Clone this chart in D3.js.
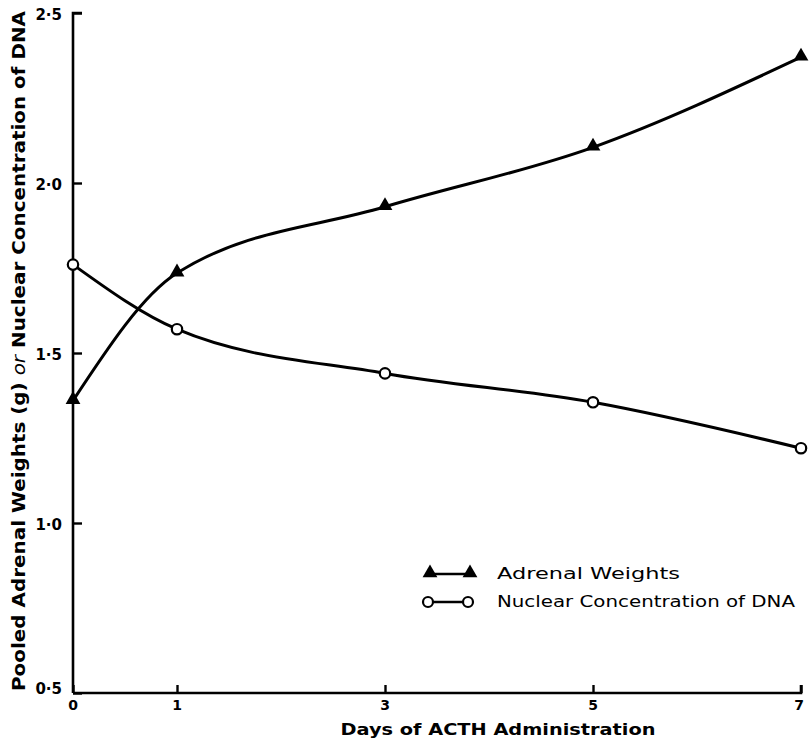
<!DOCTYPE html>
<html>
<head>
<meta charset="utf-8">
<script src="https://cdn.jsdelivr.net/npm/d3@7"></script>
<style>
  html, body { margin: 0; padding: 0; background: #fff; }
  svg { display: block; }
  text { font-family: "DejaVu Sans", sans-serif; fill: #000; }
</style>
</head>
<body>
<svg id="chart" width="812" height="746"></svg>
<script>
// Days on which pooled glands were weighed and assayed
const days = [0, 1, 3, 5, 7];
// Pooled adrenal weights (g)
const adrenalWeights = [1.36, 1.735, 1.93, 2.105, 2.37];
// Nuclear concentration of DNA
const dnaConcentration = [1.76, 1.57, 1.44, 1.355, 1.22];
// Axis ticks
const xTicks = [0, 1, 3, 5, 7];
const yTicks = [0.5, 1.0, 1.5, 2.0, 2.5];
const yTickLabels = ["0·5", "1·0", "1·5", "2·0", "2·5"];

const svg = d3.select("#chart");
const x = d3.scaleLinear().domain([0, 7]).range([73, 801]);
const y = d3.scaleLinear().domain([0.5, 2.5]).range([693, 13]);

const ink = "#000";

// Axes
const yAxis = d3.axisRight(y).tickValues(yTicks).tickSize(9).tickFormat("");
const gy = svg.append("g").attr("transform", `translate(${x(0)},0)`).call(yAxis);
gy.select(".domain").attr("d", `M9,${y(2.5)}H0V${y(0.5)}`);

const xAxis = d3.axisTop(x).tickValues(xTicks).tickSize(8).tickFormat("");
const gx = svg.append("g").attr("transform", `translate(0,${y(0.5)})`).call(xAxis);
gx.select(".domain").attr("d", `M${x(0)},0H${x(7)}V-8`);

svg.selectAll(".domain").attr("stroke", ink).attr("stroke-width", 2.6).attr("fill", "none");
svg.selectAll(".tick line").attr("stroke", ink).attr("stroke-width", 2.4);

// Tick labels
svg.append("g").selectAll("text").data(yTicks).join("text")
  .attr("x", x(0) - 11)
  .attr("y", (d, i) => y(d) + (i === 0 ? -4 : 2))
  .attr("text-anchor", "end")
  .attr("dominant-baseline", "middle")
  .attr("font-size", 15)
  .attr("font-weight", "bold")
  .text((d, i) => yTickLabels[i]);

svg.append("g").selectAll("text").data(xTicks).join("text")
  .attr("x", d => x(d) + (d === 7 ? -2 : 0))
  .attr("y", y(0.5) + 17)
  .attr("text-anchor", "middle")
  .attr("font-size", 14)
  .attr("font-weight", "bold")
  .text(d => d);

// Axis titles
svg.append("text")
  .attr("x", 498).attr("y", 735)
  .attr("text-anchor", "middle")
  .attr("font-size", 16)
  .attr("font-weight", "bold")
  .attr("textLength", 315)
  .attr("lengthAdjust", "spacingAndGlyphs")
  .text("Days of ACTH Administration");

const yTitle = svg.append("text")
  .attr("transform", `translate(25,351) rotate(-90)`)
  .attr("text-anchor", "middle")
  .attr("font-size", 18)
  .attr("font-weight", "bold")
  .attr("textLength", 680)
  .attr("lengthAdjust", "spacingAndGlyphs");
yTitle.append("tspan").text("Pooled Adrenal Weights (g) ");
yTitle.append("tspan").attr("font-style", "italic").attr("font-weight", "normal").text("or");
yTitle.append("tspan").text(" Nuclear Concentration of DNA");

// Smooth curves through the points
const line = d3.line().x(d => x(d[0])).y(d => y(d[1])).curve(d3.curveMonotoneX);
const adrenalPts = days.map((d, i) => [d, adrenalWeights[i]]);
const dnaPts = days.map((d, i) => [d, dnaConcentration[i]]);

svg.append("path").datum(adrenalPts).attr("d", line)
  .attr("fill", "none").attr("stroke", ink).attr("stroke-width", 3);
svg.append("path").datum(dnaPts).attr("d", line)
  .attr("fill", "none").attr("stroke", ink).attr("stroke-width", 3);

const triangle = d3.symbol().type(d3.symbolTriangle).size(95);

svg.append("g").selectAll("path").data(adrenalPts).join("path")
  .attr("d", triangle)
  .attr("transform", d => `translate(${x(d[0])},${y(d[1]) - 1})`)
  .attr("fill", ink);

svg.append("g").selectAll("circle").data(dnaPts).join("circle")
  .attr("cx", d => x(d[0])).attr("cy", d => y(d[1]))
  .attr("r", 5.2)
  .attr("fill", "#fff").attr("stroke", ink).attr("stroke-width", 2.2);

// Legend
const legend = svg.append("g");
const lx0 = 430, lx1 = 470, ly1 = 574, ly2 = 602;
legend.append("line").attr("x1", lx0).attr("x2", lx1).attr("y1", ly1).attr("y2", ly1)
  .attr("stroke", ink).attr("stroke-width", 2.6);
legend.selectAll(".lt").data([lx0, lx1]).join("path").attr("class", "lt")
  .attr("d", triangle).attr("transform", d => `translate(${d},${ly1 - 1})`).attr("fill", ink);
legend.append("line").attr("x1", lx0).attr("x2", lx1).attr("y1", ly2).attr("y2", ly2)
  .attr("stroke", ink).attr("stroke-width", 2.4);
legend.selectAll(".lc").data([lx0 - 2, lx1 - 2]).join("circle").attr("class", "lc")
  .attr("cx", d => d).attr("cy", ly2).attr("r", 5)
  .attr("fill", "#fff").attr("stroke", ink).attr("stroke-width", 2.2);
legend.append("text").attr("x", 497).attr("y", ly1).attr("dominant-baseline", "middle")
  .attr("font-size", 15).attr("textLength", 183).attr("lengthAdjust", "spacingAndGlyphs")
  .text("Adrenal  Weights");
legend.append("text").attr("x", 497).attr("y", ly2).attr("dominant-baseline", "middle")
  .attr("font-size", 15).attr("textLength", 298).attr("lengthAdjust", "spacingAndGlyphs")
  .text("Nuclear Concentration of DNA");
</script>
</body>
</html>
